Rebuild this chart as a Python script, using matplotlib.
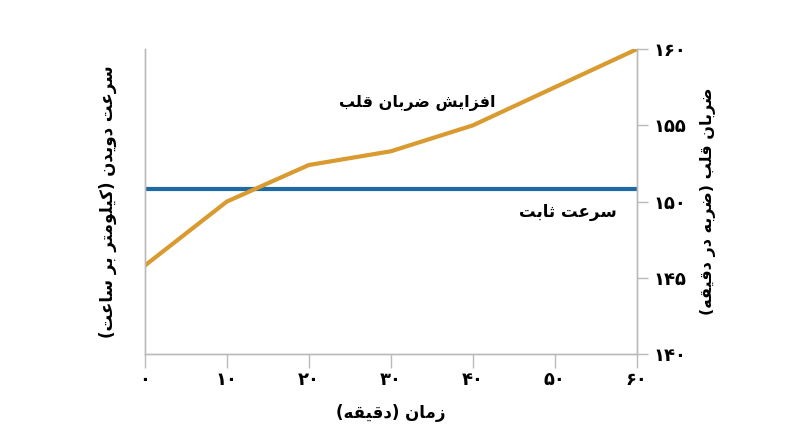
import numpy as np
import matplotlib
matplotlib.use('Agg')
import matplotlib.pyplot as plt

# data
minutes = [0, 10, 20, 30, 40, 50, 60]
heart_rate = [145.8, 150.0, 152.4, 153.3, 155.0, 157.5, 160.0]
speed = [10, 10, 10, 10, 10, 10, 10]
x_ticks = [0, 10, 20, 30, 40, 50, 60]
y_ticks = [140, 145, 150, 155, 160]

label_heart = 'افزایش ضربان قلب'
label_speed = 'سرعت ثابت'
ylabel_left = 'سرعت دویدن (کیلومتر بر ساعت)'
ylabel_right = 'ضربان قلب (ضربه در دقیقه)'
xlabel = 'زمان (دقیقه)'

# simple arabic/persian shaping, matplotlib does no shaping itself
FORMS = {
    'ا': ('\uFE8D', '\uFE8E', None, None),
    'ب': ('\uFE8F', '\uFE90', '\uFE91', '\uFE92'),
    'ت': ('\uFE95', '\uFE96', '\uFE97', '\uFE98'),
    'ث': ('\uFE99', '\uFE9A', '\uFE9B', '\uFE9C'),
    'د': ('\uFEA9', '\uFEAA', None, None),
    'ر': ('\uFEAD', '\uFEAE', None, None),
    'ز': ('\uFEAF', '\uFEB0', None, None),
    'س': ('\uFEB1', '\uFEB2', '\uFEB3', '\uFEB4'),
    'ش': ('\uFEB5', '\uFEB6', '\uFEB7', '\uFEB8'),
    'ض': ('\uFEBD', '\uFEBE', '\uFEBF', '\uFEC0'),
    'ع': ('\uFEC9', '\uFECA', '\uFECB', '\uFECC'),
    'ف': ('\uFED1', '\uFED2', '\uFED3', '\uFED4'),
    'ق': ('\uFED5', '\uFED6', '\uFED7', '\uFED8'),
    'ل': ('\uFEDD', '\uFEDE', '\uFEDF', '\uFEE0'),
    'م': ('\uFEE1', '\uFEE2', '\uFEE3', '\uFEE4'),
    'ن': ('\uFEE5', '\uFEE6', '\uFEE7', '\uFEE8'),
    'ه': ('\uFEE9', '\uFEEA', '\uFEEB', '\uFEEC'),
    'و': ('\uFEED', '\uFEEE', None, None),
    'ی': ('\uFBFC', '\uFBFD', '\uFBFE', '\uFBFF'),
    'ک': ('\uFB8E', '\uFB8F', '\uFB90', '\uFB91'),
}


def dual(c):
    return c in FORMS and FORMS[c][2] is not None


def shape(s):
    out = []
    for i, c in enumerate(s):
        if c not in FORMS:
            out.append(c)
            continue
        prev = s[i - 1] if i > 0 else ''
        nxt = s[i + 1] if i < len(s) - 1 else ''
        jp = dual(prev)
        jn = dual(c) and nxt in FORMS
        iso, fin, ini, med = FORMS[c]
        if jp and jn:
            out.append(med)
        elif jp:
            out.append(fin)
        elif jn:
            out.append(ini)
        else:
            out.append(iso)
    swap = {'(': ')', ')': '('}
    return ''.join(swap.get(c, c) for c in reversed(out))


def fa_num(n):
    return str(n).translate(str.maketrans('0123456789', '۰۱۲۳۴۵۶۷۸۹'))


plt.rcParams['font.family'] = ['DejaVu Sans']
plt.rcParams['font.weight'] = 'bold'

orange = '#D99A2F'
blue = '#1F6AA5'
grey = '#BBBBBB'

fig = plt.figure(figsize=(8, 4.47), dpi=100)
ax = fig.add_axes([0.181, 0.208, 0.615, 0.682])
ax2 = ax.twinx()

# speed on the left axis (no scale shown)
ax.plot(minutes, speed, color=blue, lw=3)
ax.set_ylim(0, 18.5)
ax.set_yticks([])

# heart rate on the right axis
ax2.plot(minutes, heart_rate, color=orange, lw=3, solid_capstyle='butt')
ax2.set_ylim(140, 160)
ax2.set_yticks(y_ticks)
ax2.set_yticklabels([fa_num(v) for v in y_ticks], fontsize=13, fontweight='bold')
ax2.tick_params(axis='y', length=8, width=1, color=grey, pad=4)

ax.set_xlim(0, 60)
ax.set_xticks(x_ticks)
ax.set_xticklabels([fa_num(v) for v in x_ticks], fontsize=13, fontweight='bold')
ax.tick_params(axis='x', length=10, width=1, color=grey, pad=2)

for a in (ax, ax2):
    a.spines['top'].set_visible(False)
    for s in ('left', 'right', 'bottom'):
        a.spines[s].set_color(grey)
        a.spines[s].set_linewidth(1)

ax.set_xlabel(shape(xlabel), fontsize=12, fontweight='bold', labelpad=11)
ax.set_ylabel(shape(ylabel_left), fontsize=12, fontweight='bold', labelpad=20)
ax2.set_ylabel(shape(ylabel_right), fontsize=11.5, fontweight='bold', labelpad=10)

ax2.text(42.8, 156.5, shape(label_heart), fontsize=11.5, fontweight='bold', ha='right', va='center')
ax2.text(57.6, 149.3, shape(label_speed), fontsize=12, fontweight='bold', ha='right', va='center')

fig.savefig('out.png', dpi=100)
